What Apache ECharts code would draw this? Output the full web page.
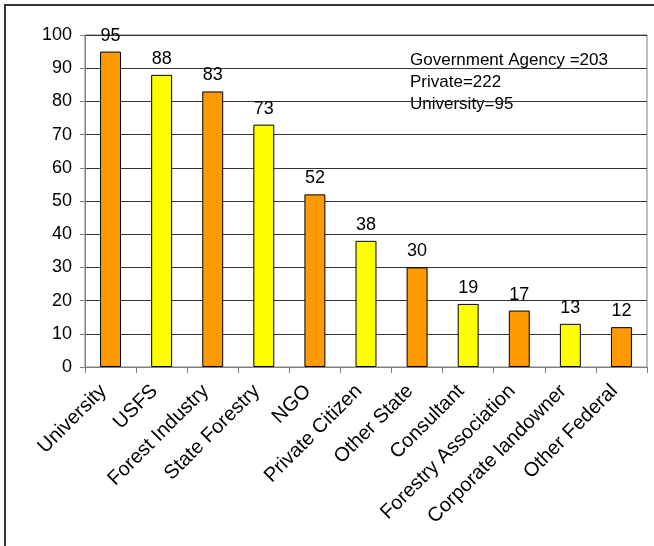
<!DOCTYPE html>
<html>
<head>
<meta charset="utf-8">
<script src="https://cdn.jsdelivr.net/npm/echarts@6/dist/echarts.min.js"></script>
<style>
html,body{margin:0;padding:0;background:#fff;}
#chart{width:654px;height:546px;}
</style>
</head>
<body>
<div id="chart"></div>
<script>
var categories = ['University','USFS','Forest Industry','State Forestry','NGO','Private Citizen','Other State','Consultant','Forestry Association','Corporate landowner','Other Federal'];
var values = [95,88,83,73,52,38,30,19,17,13,12];
var barColors = ['#FF9900','#FFFF00'];
var yTicks = {min:0, max:100, interval:10};
var noteLines = ['Government Agency =203','Private=222','University=95'];

var FONT = '"Liberation Sans", Arial, sans-serif';
var chart = echarts.init(document.getElementById('chart'), null, {renderer:'canvas'});
chart.setOption({
  animation:false,
  backgroundColor:'#fff',
  grid:{left:85, right:7, top:35, bottom:179, show:true, borderColor:'#808080', borderWidth:1, backgroundColor:'transparent'},
  xAxis:{
    type:'category', data:categories,
    axisLine:{lineStyle:{color:'#808080', width:1}},
    axisTick:{show:true, alignWithLabel:false, length:6, lineStyle:{color:'#808080'}},
    axisLabel:{rotate:45, interval:0, color:'#000', fontFamily:FONT, fontSize:20, margin:14, padding:[0,10,0,0]}
  },
  yAxis:{
    type:'value', min:yTicks.min, max:yTicks.max, interval:yTicks.interval,
    axisLine:{show:true, lineStyle:{color:'#808080', width:1}},
    axisTick:{show:true, length:5, lineStyle:{color:'#808080'}},
    axisLabel:{color:'#000', fontFamily:FONT, fontSize:18, margin:13},
    splitLine:{show:true, lineStyle:{color:'#333', width:1}}
  },
  series:[{
    type:'bar', barWidth:'41%',
    data: values.map(function(v,i){return {value:v, itemStyle:{color:barColors[i%2]}};}),
    itemStyle:{borderColor:'#000', borderWidth:1},
    label:{show:true, position:'top', distance:7, color:'#000', fontFamily:FONT, fontSize:18}
  }],
  graphic:[
    {type:'rect', left:4, top:4, shape:{width:700, height:600}, style:{fill:'transparent', stroke:'#333', lineWidth:2}, silent:true, z:100},
    {type:'group', left:405, top:47, z:50, children:[
      {type:'rect', shape:{x:0,y:0,width:213,height:68}, style:{fill:'#fff', stroke:null}},
      {type:'text', x:5, y:2, style:{text:noteLines.join('\n'), font:'17px '+FONT, fill:'#000', lineHeight:22}}
    ]}
  ]
});
</script>
</body>
</html>
